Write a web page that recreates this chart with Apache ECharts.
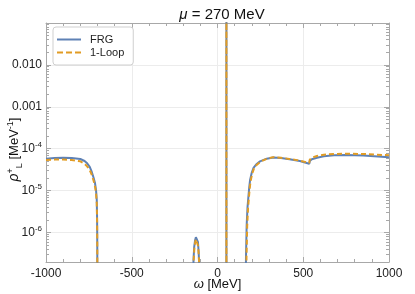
<!DOCTYPE html>
<html><head><meta charset="utf-8">
<script src="https://cdn.jsdelivr.net/npm/echarts@6/dist/echarts.min.js"></script>
<style>html,body{margin:0;padding:0;background:#fff}#c{width:415px;height:294px}</style>
</head><body><div id="c"></div>
<script>
// omega [MeV]; null rho = gap
const frgOmega = [-1000,-950,-900,-850,-800,-775,-760,-745,-733,-722,-714,-708,-704,-702,-701,-700, -699,
  -142,-140,-136,-131,-126,-122,-118,-114,-110,-107,-105, -104,
  51.9,52,52.1, 53,
  164,166,170,175,180,185,190,200,210,225,248,287,325,370,420,480,535,538,550,580,620,680,750,850,1000];
const frgRho = [5.8e-5,6.0e-5,6.1e-5,6.05e-5,5.7e-5,5.1e-5,4.5e-5,3.7e-5,2.8e-5,2.0e-5,1.5e-5,1.0e-5,6e-6,2e-6,5e-7,1e-8, null,
  1e-8,2.2e-7,4.5e-7,6.5e-7,7.8e-7,8e-7,7.5e-7,6e-7,3.5e-7,1.8e-7,1e-8, null,
  1e-8,10,1e-8, null,
  1e-8,2.5e-7,1.5e-6,4e-6,7e-6,1.2e-5,1.8e-5,2.7e-5,3.5e-5,4.2e-5,5e-5,5.8e-5,6.2e-5,6.0e-5,5.6e-5,5.1e-5,4.4e-5,5.1e-5,5.6e-5,6.1e-5,6.6e-5,7.0e-5,7.1e-5,6.9e-5,6.3e-5];
const loopOmega = [-1000,-950,-900,-850,-800,-775,-760,-745,-733,-722,-714,-708,-704,-702,-701,-700, -699,
  -141,-139,-135,-130,-125,-121,-117,-113,-109,-106,-105, -104,
  51.9,52,52.1, 53,
  167,169,173,178,183,188,193,203,213,228,250,290,325,370,420,480,535,538,550,580,620,680,750,850,1000];
const loopRho = [5.4e-5,5.5e-5,5.5e-5,5.4e-5,5.0e-5,4.4e-5,3.8e-5,3.1e-5,2.4e-5,1.7e-5,1.25e-5,8.5e-6,5e-6,1.8e-6,5e-7,1e-8, null,
  1e-8,2.2e-7,4.2e-7,6e-7,7e-7,7e-7,6.3e-7,4.8e-7,2.8e-7,1.5e-7,1e-8, null,
  1e-8,10,1e-8, null,
  1e-8,2.5e-7,1.4e-6,3.8e-6,6.8e-6,1.15e-5,1.7e-5,2.6e-5,3.4e-5,4.1e-5,4.9e-5,5.8e-5,6.3e-5,6.1e-5,5.7e-5,5.2e-5,4.6e-5,5.5e-5,6.1e-5,6.7e-5,7.2e-5,7.5e-5,7.6e-5,7.5e-5,7.0e-5];
const yTickValues = [1e-6, 1e-5, 1e-4, 1e-3, 1e-2];
const yTickLabels = ['10{sup|-6}', '10{sup|-5}', '10{sup|-4}', '0.001', '0.010'];
const xTickLabels = ['-1000', '-500', '0', '500', '1000'];

const toData = (xs, ys) => xs.map((x, i) => [x, ys[i] === null ? '-' : ys[i]]);
const frame = '#a8a8a8';
const font = 'Liberation Sans, Arial, sans-serif';
const yMin = 2e-7, yMax = 0.099;

function yFmt(v) {
  const lv = Math.log10(v);
  for (let i = 0; i < yTickValues.length; i++) {
    if (Math.abs(lv - Math.log10(yTickValues[i])) < 1e-6) return yTickLabels[i];
  }
  return '';
}

const chart = echarts.init(document.getElementById('c'));
chart.setOption({
  animation: false,
  backgroundColor: '#fff',
  title: {
    text: '{it|μ} = 270 MeV', left: 217, textAlign: 'center', top: 2,
    textStyle: { fontFamily: font, fontSize: 15, fontWeight: 'normal', color: '#111',
      rich: { it: { fontFamily: font, fontSize: 15, fontStyle: 'italic', color: '#111' } } }
  },
  legend: {
    left: 53, top: 27, orient: 'vertical',
    data: [
      { name: 'FRG', icon: 'path://M0,0H24V2H0Z' },
      { name: '1-Loop', icon: 'path://M0,0H6V2H0Z M9,0H15V2H9Z M18,0H24V2H18Z' }
    ],
    itemWidth: 24, itemHeight: 14, itemGap: 2,
    padding: [7, 9, 7, 4],
    borderColor: '#cfcfcf', borderWidth: 1, borderRadius: 3, backgroundColor: '#fff',
    textStyle: { fontFamily: font, fontSize: 11, color: '#222', padding: [0, 0, 0, 4] }
  },
  grid: { left: 46, right: 26, top: 23, bottom: 32, containLabel: false, outerBoundsMode: 'none' },
  xAxis: [{
    type: 'value', min: -1000, max: 1000, interval: 500,
    name: '{it|ω} [MeV]', nameLocation: 'middle', nameGap: 16, nameMoveOverlap: false,
    nameTextStyle: { fontFamily: font, fontSize: 13, color: '#111',
      rich: { it: { fontFamily: font, fontSize: 13, fontStyle: 'italic', color: '#111' } } },
    axisLine: { show: true, onZero: false, lineStyle: { color: frame, width: 1 } },
    axisTick: { show: true, inside: true, length: 5, lineStyle: { color: frame } },
    minorTick: { show: true, splitNumber: 5, length: 3, lineStyle: { color: frame } },
    axisLabel: { fontFamily: font, fontSize: 12, color: '#222', margin: 6,
      formatter: (v) => xTickLabels[Math.round((v + 1000) / 500)] },
    splitLine: { show: true, lineStyle: { color: '#ececec', width: 1 } }
  }, {
    type: 'value', min: -1000, max: 1000, interval: 500, position: 'top',
    axisLine: { show: true, onZero: false, lineStyle: { color: frame, width: 1 } },
    axisTick: { show: true, inside: true, length: 5, lineStyle: { color: frame } },
    minorTick: { show: true, splitNumber: 5, length: 3, lineStyle: { color: frame } },
    axisLabel: { show: false }, splitLine: { show: false }
  }],
  yAxis: [{
    type: 'log', logBase: 10, min: yMin, max: yMax,
    name: '{it|ρ}{sup|+}{sub|L} [MeV{sup|-1}]', nameLocation: 'middle', nameGap: 24, nameRotate: 90,
    nameMoveOverlap: false,
    nameTextStyle: { fontFamily: font, fontSize: 13, color: '#111', padding: [0, 14, 0, 0],
      rich: {
        it: { fontFamily: font, fontSize: 14, fontStyle: 'italic', color: '#111' },
        sup: { fontFamily: font, fontSize: 9, color: '#111', verticalAlign: 'bottom', padding: [0, 0, 7, 0] },
        sub: { fontFamily: font, fontSize: 9, color: '#111', verticalAlign: 'bottom', padding: [0, 0, -2, 0] }
      } },
    axisLine: { show: true, onZero: false, lineStyle: { color: frame, width: 1 } },
    axisTick: { show: true, inside: true, length: 5, lineStyle: { color: frame } },
    minorTick: { show: true, splitNumber: 9, length: 3, lineStyle: { color: frame } },
    axisLabel: { fontFamily: font, fontSize: 12, color: '#222', margin: 4, formatter: yFmt,
      showMinLabel: false, showMaxLabel: false,
      rich: { sup: { fontFamily: font, fontSize: 8, color: '#222', verticalAlign: 'bottom', padding: [0, 0, 7, 0] } } },
    splitLine: { show: true, lineStyle: { color: '#ececec', width: 1 } }
  }, {
    type: 'log', logBase: 10, min: yMin, max: yMax, position: 'right',
    axisLine: { show: true, onZero: false, lineStyle: { color: frame, width: 1 } },
    axisTick: { show: true, inside: true, length: 5, lineStyle: { color: frame } },
    minorTick: { show: true, splitNumber: 9, length: 3, lineStyle: { color: frame } },
    axisLabel: { show: false }, splitLine: { show: false }
  }],
  series: [{
    name: 'FRG', type: 'line', xAxisIndex: 0, yAxisIndex: 0,
    data: toData(frgOmega, frgRho), showSymbol: false, symbol: 'none', clip: true,
    lineStyle: { color: '#5E81B5', width: 2 }, itemStyle: { color: '#5E81B5' }
  }, {
    name: '1-Loop', type: 'line', xAxisIndex: 0, yAxisIndex: 0,
    data: toData(loopOmega, loopRho), showSymbol: false, symbol: 'none', clip: true,
    lineStyle: { color: '#E19C24', width: 2, type: [5, 3] }, itemStyle: { color: '#E19C24' }
  }]
});
</script></body></html>
